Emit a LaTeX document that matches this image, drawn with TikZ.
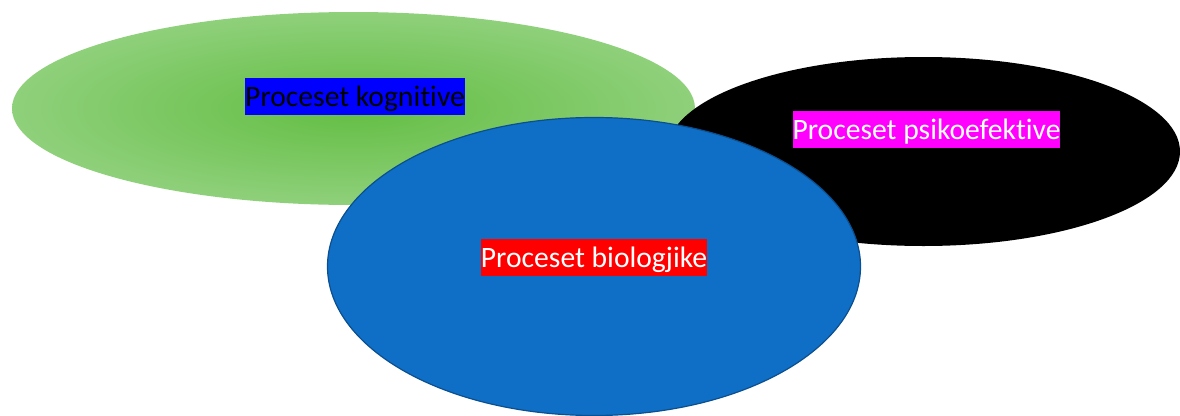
\documentclass[tikz,border=0pt]{standalone}
\usepackage{fontspec}
\setmainfont{Carlito}[Ligatures=NoCommon]
\usetikzlibrary{shapes.geometric}
\definecolor{gin}{HTML}{63BE43}
\definecolor{gout}{HTML}{8FD07B}
\definecolor{bfill}{HTML}{0F6FC6}
\definecolor{bdraw}{HTML}{0B4F8F}
\tikzset{
  lbl/.style={inner sep=0pt, font=\fontsize{29.6pt}{32pt}\selectfont, minimum height=37pt, text depth=0pt},
}
\begin{document}
\begin{tikzpicture}[x=1pt,y=-1pt]
\useasboundingbox (0,0) rectangle (1180,415);
\shade[inner color=gin, outer color=gout] (353.5,108.5) ellipse [x radius=341.5, y radius=96.5];
\coordinate (cg) at (353.5,108.5);
\fill[black] (923.5,151.5) ellipse [x radius=256.5, y radius=94.5];
\coordinate (ck) at (923.5,151.5);
\filldraw[fill=bfill, draw=bdraw, line width=1.2pt] (594,266.5) ellipse [x radius=266.5, y radius=149];
\coordinate (cb) at (594,266.5);
\node[lbl, fill={rgb,255:red,0;green,0;blue,255}, text=black] (t1) at (355,96.5) {Proceset kognitive};
\node[lbl, fill={rgb,255:red,255;green,0;blue,255}, text=white] (t2) at (926.5,129.5) {Proceset psikoefektive};
\node[lbl, fill={rgb,255:red,255;green,0;blue,0}, text=white] (t3) at (594,257.5) {Proceset biologjike};
\end{tikzpicture}
\end{document}
